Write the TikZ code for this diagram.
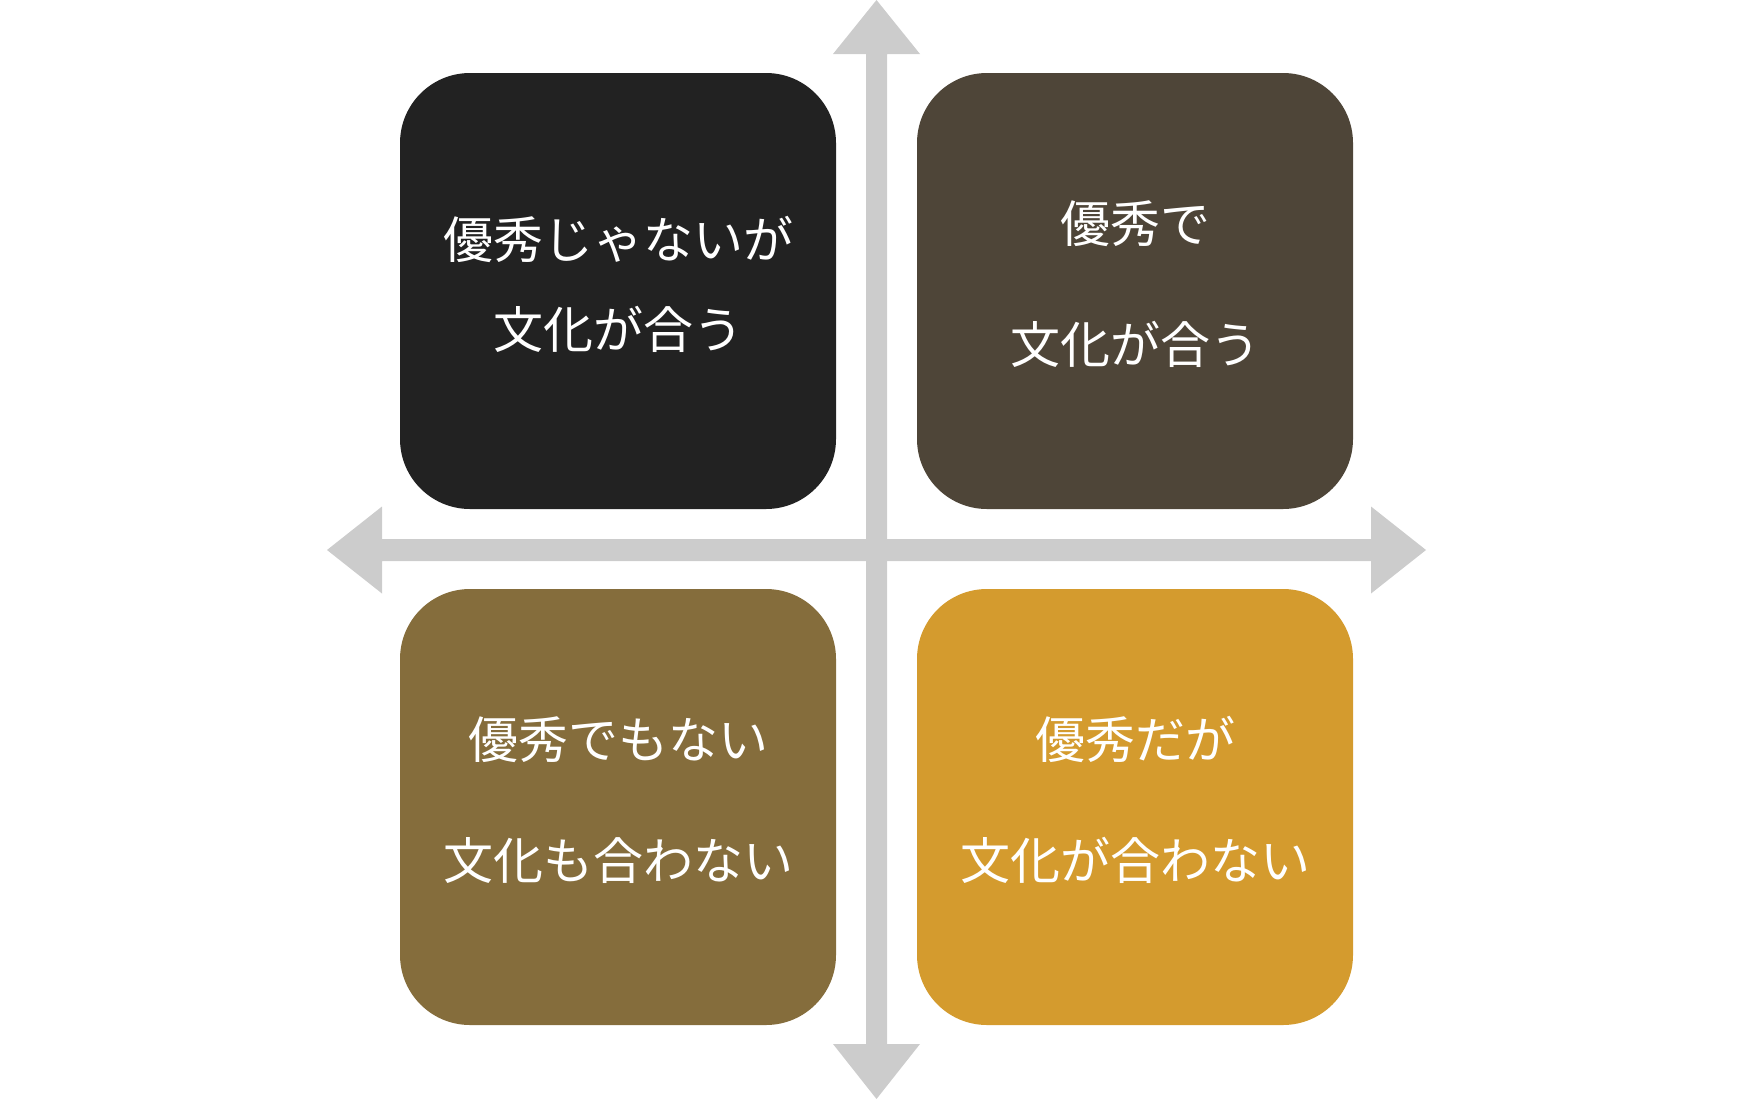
\documentclass[tikz,border=0pt]{standalone}
\usepackage{fontspec}
\setmainfont{Noto Sans CJK JP}
\usetikzlibrary{positioning}
\definecolor{axisgray}{HTML}{CCCCCC}
\definecolor{darkcolor}{HTML}{222222}
\definecolor{browncolor}{HTML}{4E4538}
\definecolor{olivecolor}{HTML}{856D3C}
\definecolor{goldcolor}{HTML}{D49B2E}
\tikzset{
  quadnode/.style={
    rounded corners=70pt,
    minimum width=436pt,
    minimum height=436pt,
    inner sep=0pt
  },
  quadtext/.style={align=center, text=white, inner sep=0pt},
  tightlines/.style={quadtext, font=\fontsize{50}{90}\selectfont},
  widelines/.style={quadtext, font=\fontsize{50}{121}\selectfont},
  axisfill/.style={fill=axisgray}
}
\begin{document}
\begin{tikzpicture}[x=1pt,y=-1pt]
  \useasboundingbox (0,0) rectangle (1753,1100);
  % axes
  \fill[axisfill] (327,550) -- (382,506.5) -- (382,539) -- (1371,539) -- (1371,506.5)
    -- (1426,550) -- (1371,593.5) -- (1371,561) -- (382,561) -- (382,593.5) -- cycle;
  \fill[axisfill] (876.5,0) -- (920,54) -- (887,54) -- (887,1044) -- (920,1044)
    -- (876.5,1099) -- (833,1044) -- (866,1044) -- (866,54) -- (833,54) -- cycle;
  % quadrants
  \node[quadnode, fill=darkcolor] (upleft) at (618,291) {};
  \node[quadnode, fill=browncolor] (upright) at (1135,291) {};
  \node[quadnode, fill=olivecolor] (lowleft) at (618,807) {};
  \node[quadnode, fill=goldcolor] (lowright) at (1135,807) {};
  \node[tightlines] (upleftlabel) at ([yshift=7pt]upleft.center) {優秀じゃないが\\文化が合う};
  \node[widelines] (uprightlabel) at ([yshift=7pt]upright.center) {優秀で\\文化が合う};
  \node[widelines] (lowleftlabel) at ([yshift=7pt]lowleft.center) {優秀でもない\\文化も合わない};
  \node[widelines] (lowrightlabel) at ([yshift=7pt]lowright.center) {優秀だが\\文化が合わない};
\end{tikzpicture}
\end{document}
